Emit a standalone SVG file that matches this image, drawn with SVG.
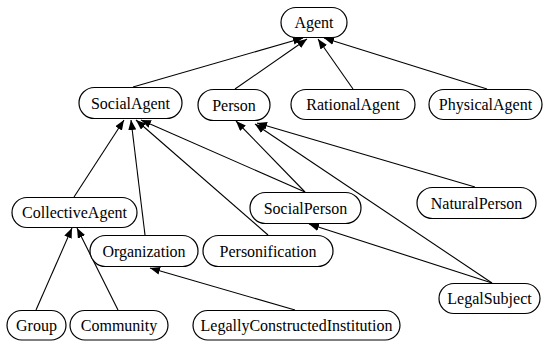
<svg xmlns="http://www.w3.org/2000/svg" width="544" height="341" viewBox="0 0 544 341">
<style>
.n rect{fill:#fff;stroke:#000;stroke-width:1.2}
.n text{font-family:"Liberation Serif","Times New Roman",serif;font-size:16px;text-anchor:middle;fill:#000}
.e line{stroke:#000;stroke-width:1.1;marker-end:url(#ah)}
</style>
<defs>
<marker id="ah" viewBox="0 0 10 8" refX="10" refY="4" markerWidth="10" markerHeight="8" markerUnits="userSpaceOnUse" orient="auto">
<path d="M0,0 L10,4 L0,8 Z" fill="#000"/>
</marker>
</defs>
<rect width="544" height="341" fill="#fff"/>
<g id="edges" class="e">
<line x1="133" y1="87" x2="303" y2="38"/>
<line x1="235" y1="89" x2="307" y2="39"/>
<line x1="353" y1="89" x2="318" y2="39"/>
<line x1="487" y1="89" x2="324" y2="38"/>
<line x1="74" y1="197" x2="124" y2="120"/>
<line x1="145" y1="235" x2="131" y2="120"/>
<line x1="268" y1="235" x2="136" y2="120"/>
<line x1="305" y1="192" x2="141" y2="120"/>
<line x1="305" y1="192" x2="236" y2="121"/>
<line x1="475" y1="187" x2="257" y2="123"/>
<line x1="492" y1="283" x2="255" y2="124"/>
<line x1="492" y1="283" x2="309" y2="224"/>
<line x1="36" y1="310" x2="72" y2="228"/>
<line x1="118" y1="310" x2="77" y2="228"/>
<line x1="295" y1="310" x2="150" y2="268"/>
</g>
<g id="Agent" class="n"><rect x="281" y="7.5" width="66" height="30" rx="15"/><text x="314" y="28">Agent</text></g>
<g id="SocialAgent" class="n"><rect x="79" y="87.5" width="103" height="31" rx="15.5"/><text x="130.5" y="108.5">SocialAgent</text></g>
<g id="Person" class="n"><rect x="198" y="89.5" width="72" height="31" rx="15.5"/><text x="234" y="110.5">Person</text></g>
<g id="RationalAgent" class="n"><rect x="291" y="89.5" width="124" height="30" rx="15"/><text x="353" y="110">RationalAgent</text></g>
<g id="PhysicalAgent" class="n"><rect x="429" y="89.5" width="113" height="30" rx="15"/><text x="485.5" y="110">PhysicalAgent</text></g>
<g id="CollectiveAgent" class="n"><rect x="12" y="197.5" width="125" height="30" rx="15"/><text x="74.5" y="218">CollectiveAgent</text></g>
<g id="SocialPerson" class="n"><rect x="250" y="192.5" width="111" height="31" rx="15.5"/><text x="305.5" y="213.5">SocialPerson</text></g>
<g id="NaturalPerson" class="n"><rect x="417" y="187.5" width="119" height="31" rx="15.5"/><text x="476.5" y="208.5">NaturalPerson</text></g>
<g id="Organization" class="n"><rect x="90" y="235.5" width="108" height="31" rx="15.5"/><text x="144" y="256.5">Organization</text></g>
<g id="Personification" class="n"><rect x="203" y="235.5" width="130" height="31" rx="15.5"/><text x="268" y="256.5">Personification</text></g>
<g id="LegalSubject" class="n"><rect x="439" y="283.5" width="101" height="30" rx="15"/><text x="489.5" y="304">LegalSubject</text></g>
<g id="Group" class="n"><rect x="7" y="310.5" width="59" height="29.5" rx="14.75"/><text x="36.5" y="331">Group</text></g>
<g id="Community" class="n"><rect x="70" y="310.5" width="98" height="29.5" rx="14.75"/><text x="119" y="331">Community</text></g>
<g id="LegallyConstructedInstitution" class="n"><rect x="193" y="310.5" width="207" height="29.5" rx="14.75"/><text x="296.5" y="331">LegallyConstructedInstitution</text></g>
</svg>
